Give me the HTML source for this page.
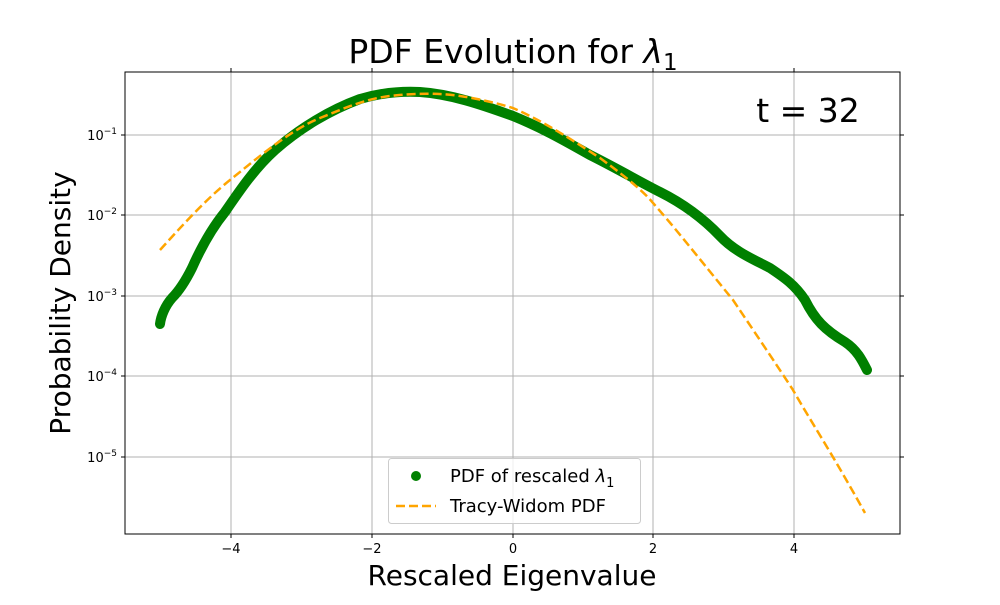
<!DOCTYPE html>
<html><head><meta charset="utf-8"><style>body{margin:0;background:#fff}</style></head><body>
<svg width="1000" height="600" xmlns="http://www.w3.org/2000/svg" font-family="DejaVu Sans, Liberation Sans, sans-serif">
<rect width="1000" height="600" fill="#fff"/>
<g stroke="#b0b0b0" stroke-width="1">
<line x1="231" y1="72" x2="231" y2="534"/><line x1="372" y1="72" x2="372" y2="534"/><line x1="513" y1="72" x2="513" y2="534"/><line x1="653" y1="72" x2="653" y2="534"/><line x1="794" y1="72" x2="794" y2="534"/>
<line x1="125" y1="135" x2="900" y2="135"/><line x1="125" y1="215" x2="900" y2="215"/><line x1="125" y1="296" x2="900" y2="296"/><line x1="125" y1="376" x2="900" y2="376"/><line x1="125" y1="457" x2="900" y2="457"/>
</g>
<path fill="none" stroke="#008000" stroke-width="10" stroke-linecap="round" stroke-linejoin="round" d="M160,324 C161,316 165,306 172,298 C180,290 186,280 192,268 C200,250 212,228 225,212 C240,190 255,168 275,150 C300,128 330,110 360,99 C380,93 400,91 420,92 C450,94 480,104 513,116 C540,127 560,138 590,155 C620,170 640,182 660,192 C680,202 700,215 720,236 C735,252 755,260 770,268 C785,278 795,285 805,300 C815,320 825,330 845,342 C857,350 862,360 867,370"/>
<path fill="none" stroke="#ffa500" stroke-width="2.5" stroke-dasharray="9,4" d="M160,250 C180,228 205,200 230,180 C255,160 290,130 320,118 C345,108 365,99 390,96 C415,93 440,93 460,96 C480,99 500,104 513,108 C540,120 560,132 600,158 C630,180 645,193 653,203 C670,222 690,247 733,300 C760,340 780,370 793,390 C810,420 830,450 865,513"/>
<rect x="125" y="72" width="775" height="462" fill="none" stroke="#000" stroke-width="1"/>
<g stroke="#000" stroke-width="1">
<line x1="231" y1="534" x2="231" y2="538"/><line x1="372" y1="534" x2="372" y2="538"/><line x1="513" y1="534" x2="513" y2="538"/><line x1="653" y1="534" x2="653" y2="538"/><line x1="794" y1="534" x2="794" y2="538"/>
<line x1="231" y1="72" x2="231" y2="68"/><line x1="372" y1="72" x2="372" y2="68"/><line x1="513" y1="72" x2="513" y2="68"/><line x1="653" y1="72" x2="653" y2="68"/><line x1="794" y1="72" x2="794" y2="68"/>
<line x1="121" y1="135" x2="125" y2="135"/><line x1="121" y1="215" x2="125" y2="215"/><line x1="121" y1="296" x2="125" y2="296"/><line x1="121" y1="376" x2="125" y2="376"/><line x1="121" y1="457" x2="125" y2="457"/>
<line x1="900" y1="135" x2="904" y2="135"/><line x1="900" y1="215" x2="904" y2="215"/><line x1="900" y1="296" x2="904" y2="296"/><line x1="900" y1="376" x2="904" y2="376"/><line x1="900" y1="457" x2="904" y2="457"/>
</g>
<g font-size="13" text-anchor="middle" fill="#000">
<text x="231" y="553">−4</text><text x="372" y="553">−2</text><text x="513" y="553">0</text><text x="653" y="553">2</text><text x="794" y="553">4</text>
</g>
<g font-size="13" text-anchor="end" fill="#000">
<text x="117" y="140">10<tspan font-size="9" dy="-6">−1</tspan></text>
<text x="117" y="220">10<tspan font-size="9" dy="-6">−2</tspan></text>
<text x="117" y="301">10<tspan font-size="9" dy="-6">−3</tspan></text>
<text x="117" y="381">10<tspan font-size="9" dy="-6">−4</tspan></text>
<text x="117" y="462">10<tspan font-size="9" dy="-6">−5</tspan></text>
</g>
<text x="513" y="63" font-size="33" text-anchor="middle">PDF Evolution for <tspan font-style="italic">λ</tspan><tspan font-size="23" dy="7">1</tspan></text>
<text x="808" y="122" font-size="33" text-anchor="middle">t = 32</text>
<text x="512" y="585" font-size="28" text-anchor="middle">Rescaled Eigenvalue</text>
<text transform="translate(70,303) rotate(-90)" font-size="28" text-anchor="middle">Probability Density</text>
<rect x="388.5" y="458.5" width="252" height="65" rx="3" fill="#fff" fill-opacity="0.8" stroke="#ccc"/>
<circle cx="416" cy="476" r="5" fill="#008000"/>
<line x1="396" y1="506" x2="436" y2="506" stroke="#ffa500" stroke-width="2.5" stroke-dasharray="9,4"/>
<text x="450" y="482" font-size="18">PDF of rescaled <tspan font-style="italic">λ</tspan><tspan font-size="13" dy="5">1</tspan></text>
<text x="450" y="512" font-size="18">Tracy-Widom PDF</text>
</svg>
</body></html>
